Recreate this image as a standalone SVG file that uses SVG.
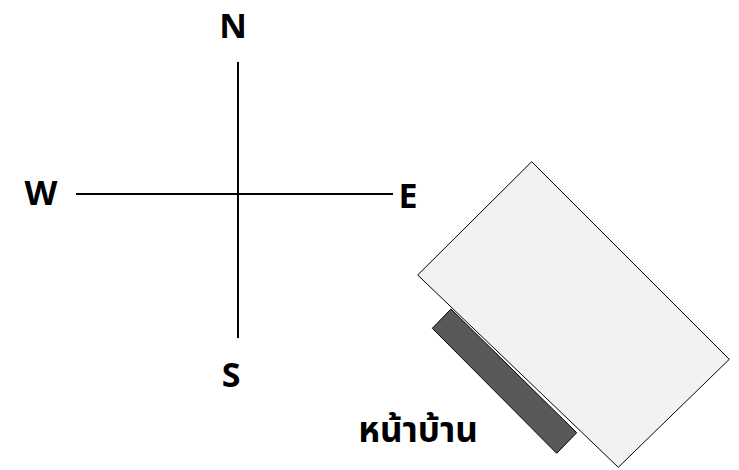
<svg xmlns="http://www.w3.org/2000/svg" width="739" height="470" viewBox="0 0 739 470">
<style>
.lbl{font-family:"Open Sans","Noto Sans","Noto Sans Thai",sans-serif;font-weight:bold;font-size:34px;fill:#000}
.th{font-family:"Noto Sans Thai","Noto Sans","Noto Sans Thai Looped",sans-serif;font-weight:bold;font-size:35px;fill:#000}
.ax{stroke:#000;stroke-width:2;fill:none}
</style>
<rect width="739" height="470" fill="#fff"/>
<g id="connectors">
<line class="ax" x1="238" y1="62" x2="238" y2="338"/>
<line class="ax" x1="76" y1="194" x2="393" y2="194"/>
</g>
<g id="north"><text class="lbl" x="233" y="38" text-anchor="middle">N</text></g>
<g id="south"><text class="lbl" x="231" y="387" text-anchor="middle">S</text></g>
<g id="west"><text class="lbl" x="41" y="205" text-anchor="middle">W</text></g>
<g id="east"><text class="lbl" x="408" y="208" text-anchor="middle">E</text></g>
<g id="front">
<polygon points="432.3,328.3 451,309 576.7,432.7 556.7,453.3" fill="#595959" stroke="#000" stroke-width="1"/>
</g>
<g id="house">
<polygon points="531.7,161.7 729.3,359.3 618.3,467.3 417.7,275" fill="#f2f2f2" stroke="#000" stroke-width="1"/>
</g>
<g id="front-label"><text class="th" x="418" y="442" text-anchor="middle">หน้าบ้าน</text></g>
</svg>
